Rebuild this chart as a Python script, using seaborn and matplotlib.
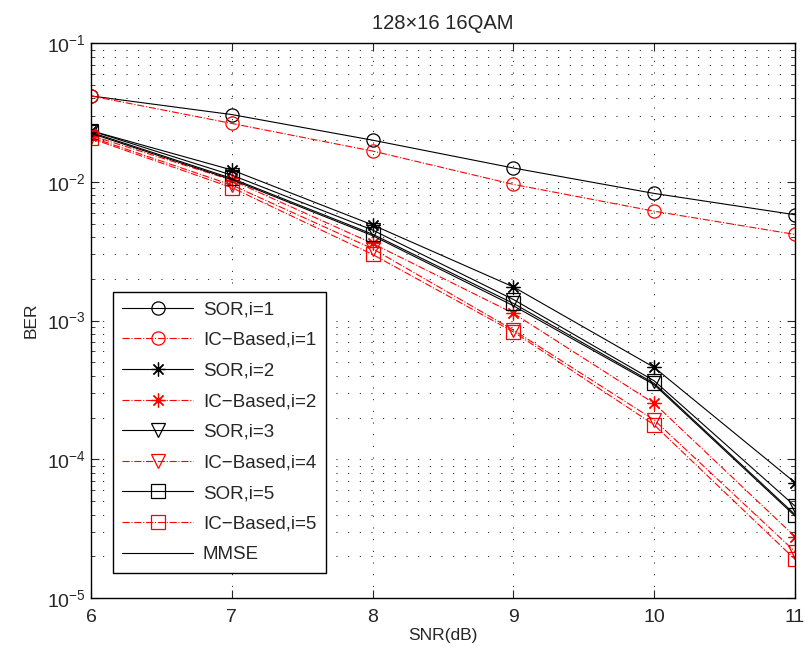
import numpy as np
import pandas as pd
import matplotlib
matplotlib.use("Agg")
import matplotlib.pyplot as plt
import seaborn as sns

# SNR points and BER values
snr = [6, 7, 8, 9, 10, 11]

sor_i1 = [0.0417, 0.0306, 0.0200, 0.0126, 0.00826, 0.0058]
ic_i1 = [0.0417, 0.0264, 0.0167, 0.0096, 0.00615, 0.00418]
sor_i2 = [0.0234, 0.0122, 0.0049, 0.00175, 0.00046, 6.8e-5]
ic_i2 = [0.0216, 0.0103, 0.0036, 0.00113, 0.000253, 2.77e-5]
sor_i3 = [0.0234, 0.0112, 0.0045, 0.00142, 0.000368, 4.6e-5]
ic_i4 = [0.0210, 0.0095, 0.0033, 0.000855, 0.000192, 2.16e-5]
sor_i5 = [0.0228, 0.0106, 0.0042, 0.00133, 0.000353, 4.0e-5]
ic_i5 = [0.0206, 0.0091, 0.0030, 0.00083, 0.000177, 1.9e-5]
mmse = [0.0224, 0.0104, 0.0041, 0.00128, 0.000345, 3.9e-5]

star = (8, 2, 0)  # asterisk, like MATLAB '*'
series = [
    ("SOR,i=1", sor_i1, "black", "-", "o"),
    ("IC\u2212Based,i=1", ic_i1, "red", "-.", "o"),
    ("SOR,i=2", sor_i2, "black", "-", star),
    ("IC\u2212Based,i=2", ic_i2, "red", "-.", star),
    ("SOR,i=3", sor_i3, "black", "-", "v"),
    ("IC\u2212Based,i=4", ic_i4, "red", "-.", "v"),
    ("SOR,i=5", sor_i5, "black", "-", "s"),
    ("IC\u2212Based,i=5", ic_i5, "red", "-.", "s"),
    ("MMSE", mmse, "black", "-", None),
]

sns.set_style("ticks")
plt.rcParams['font.family'] = ['Liberation Sans', 'DejaVu Sans']
plt.rcParams['mathtext.fontset'] = 'custom'
plt.rcParams['mathtext.rm'] = 'Liberation Sans'

fig = plt.figure(figsize=(8.05, 6.55), dpi=100)
ax = fig.add_axes([0.113, 0.087, 0.8746, 0.847])

for name, vals, col, ls, mk in series:
    df = pd.DataFrame({"SNR": snr, "BER": vals})
    ms = 10 if mk == star else 9.5
    sns.lineplot(data=df, x="SNR", y="BER", ax=ax, color=col, linestyle=ls,
                 marker=mk, markersize=ms, markerfacecolor="none",
                 markeredgecolor=col, markeredgewidth=0.9, linewidth=0.8,
                 label=name)

ax.set_yscale("log")
ax.set_xlim(6, 11)
ax.set_ylim(1e-5, 1e-1)
ax.set_xticks(snr)
ax.set_xticklabels([str(s) for s in snr])

ax.grid(True, which="major", linestyle=(0, (1, 11)), color="black", linewidth=0.7)
ax.grid(True, which="minor", axis="y", linestyle=(0, (1, 11)), color="black", linewidth=0.7)

ax.tick_params(which="both", direction="in", top=True, right=True, labelsize=14)
ax.tick_params(which="major", length=6)
ax.tick_params(which="minor", length=3)
ax.tick_params(axis="x", pad=8)
for sp in ax.spines.values():
    sp.set_visible(True)
    sp.set_linewidth(1.0)
    sp.set_color("black")

ax.set_xlabel("SNR(dB)", fontsize=12.5, labelpad=1)
ax.set_ylabel("BER", fontsize=12.5, labelpad=6)
ax.set_title("128\u00d716 16QAM", fontsize=14.5, pad=10)

leg = ax.legend(loc="upper left", bbox_to_anchor=(0.031, 0.552), borderaxespad=0,
                fontsize=13.5, frameon=True, fancybox=False, framealpha=1,
                edgecolor="black", handlelength=3.8, handletextpad=0.5,
                labelspacing=0.72, borderpad=0.5)
leg.get_frame().set_linewidth(1.0)

fig.savefig("out.png", dpi=100)
